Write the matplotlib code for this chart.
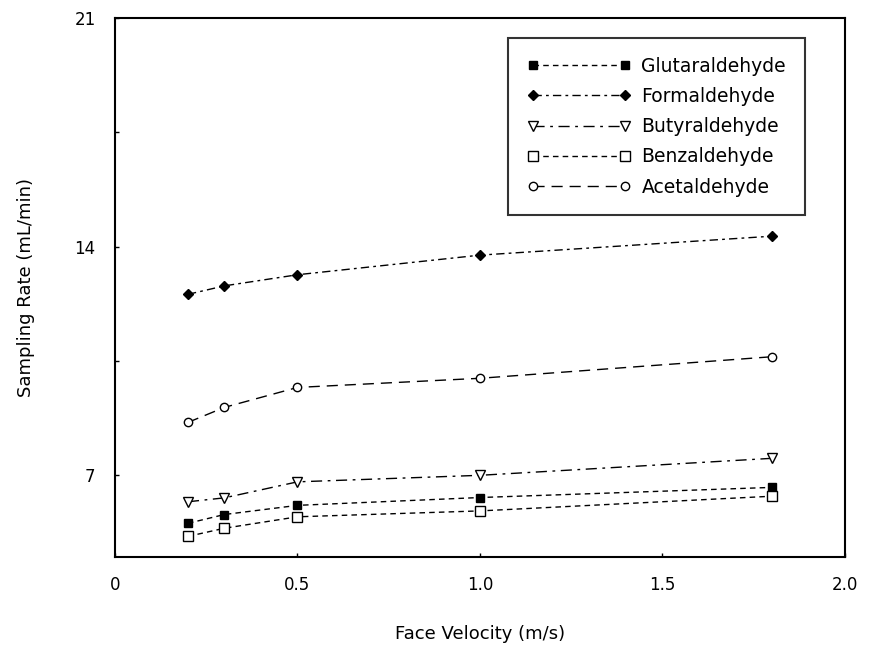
import matplotlib
matplotlib.use("Agg")
from matplotlib import pyplot as plt
from matplotlib.ticker import FixedLocator

plt.rcParams['font.family'] = ['DejaVu Sans']

velocity = [0.2, 0.3, 0.5, 1.0, 1.8]
glutaraldehyde = [5.53, 5.80, 6.08, 6.32, 6.63]
formaldehyde = [12.54, 12.80, 13.14, 13.74, 14.32]
butyraldehyde = [6.19, 6.31, 6.80, 7.00, 7.52]
benzaldehyde = [5.13, 5.38, 5.73, 5.91, 6.36]
acetaldehyde = [8.62, 9.08, 9.69, 9.97, 10.63]

xticks = [0, 0.5, 1.0, 1.5, 2.0]
xticklabels = ["0", "0.5", "1.0", "1.5", "2.0"]
yticks = [7, 14, 21]

fig = plt.figure(figsize=(8.75, 6.49), dpi=100)
ax = fig.add_axes([0.1314, 0.1418, 0.8343, 0.8305])

ax.plot(velocity, glutaraldehyde, color="k", lw=1, ls=(0, (4, 3)),
        marker="s", ms=6, mfc="k", mec="k", label="Glutaraldehyde")
ax.plot(velocity, formaldehyde, color="k", lw=1, ls=(0, (6, 3, 2, 3)),
        marker="D", ms=5, mfc="k", mec="k", label="Formaldehyde")
ax.plot(velocity, butyraldehyde, color="k", lw=1, ls=(0, (8, 4, 2, 4)),
        marker="v", ms=7, mfc="white", mec="k", label="Butyraldehyde")
ax.plot(velocity, benzaldehyde, color="k", lw=1, ls=(0, (4, 3)),
        marker="s", ms=6.5, mfc="white", mec="k", label="Benzaldehyde")
ax.plot(velocity, acetaldehyde, color="k", lw=1, ls=(0, (8, 5)),
        marker="o", ms=6, mfc="white", mec="k", label="Acetaldehyde")

ax.set_xlim(0, 2.0)
ax.set_ylim(4.5, 21)
ax.set_xticks(xticks)
ax.set_xticklabels(xticklabels)
ax.set_yticks(yticks)
ax.yaxis.set_minor_locator(FixedLocator([10.5, 17.5]))
ax.tick_params(direction="in", length=3, width=1, labelsize=12, pad=14)
ax.tick_params(which="minor", direction="in", length=3, width=1)
for sp in ax.spines.values():
    sp.set_linewidth(1.5)

ax.set_xlabel("Face Velocity (m/s)", fontsize=13, labelpad=22)
ax.set_ylabel("Sampling Rate (mL/min)", fontsize=13, labelpad=28)

leg = ax.legend(loc="upper right", bbox_to_anchor=(0.945, 0.963), fontsize=13.5,
                handlelength=5.5, numpoints=2, frameon=True, fancybox=False,
                borderpad=1.0, labelspacing=0.6, handletextpad=0.6,
                borderaxespad=0)
leg.get_frame().set_edgecolor("k")
leg.get_frame().set_linewidth(1.5)

fig.savefig("out.png", dpi=100)
